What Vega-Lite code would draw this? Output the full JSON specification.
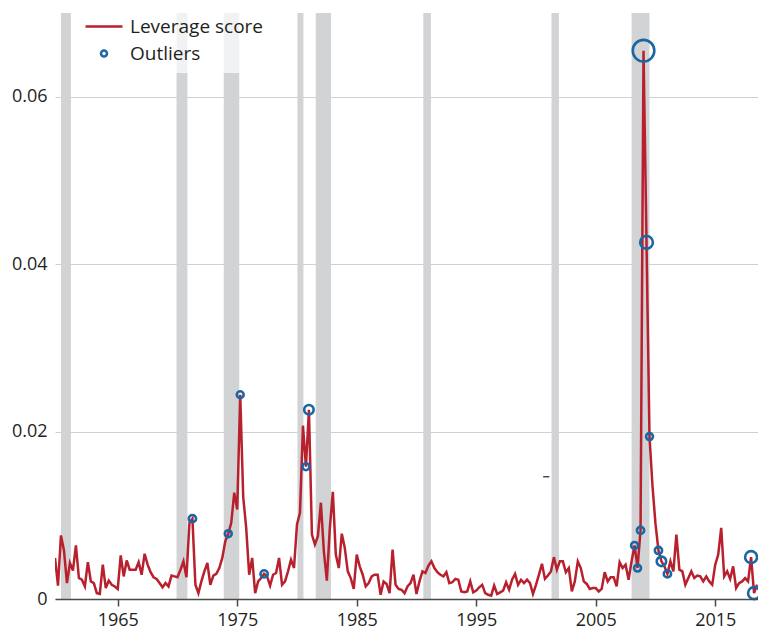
{
  "$schema": "https://vega.github.io/schema/vega-lite/v6.json",
  "width": 703,
  "height": 586,
  "autosize": {"type": "none"},
  "padding": {"left": 55, "top": 13, "right": 0, "bottom": 33},
  "background": "#ffffff",
  "datasets": {
    "recessions": [
      {"start": 1960.25, "end": 1961.08},
      {"start": 1969.92, "end": 1970.83},
      {"start": 1973.87, "end": 1975.17},
      {"start": 1980.04, "end": 1980.54},
      {"start": 1981.57, "end": 1982.85},
      {"start": 1990.57, "end": 1991.21},
      {"start": 2001.3, "end": 2001.92},
      {"start": 2008.0, "end": 2009.5}
    ],
    "leverage": [
      {"t": 1959.75, "v": 0.0049}, {"t": 1960.0, "v": 0.0016}, {"t": 1960.25, "v": 0.0076}, {"t": 1960.5, "v": 0.0058},
      {"t": 1960.75, "v": 0.0019}, {"t": 1961.0, "v": 0.0043}, {"t": 1961.25, "v": 0.0034}, {"t": 1961.5, "v": 0.0064},
      {"t": 1961.75, "v": 0.0025}, {"t": 1962.0, "v": 0.0023}, {"t": 1962.25, "v": 0.0015}, {"t": 1962.5, "v": 0.0044},
      {"t": 1962.75, "v": 0.0021}, {"t": 1963.0, "v": 0.0019}, {"t": 1963.25, "v": 0.0007}, {"t": 1963.5, "v": 0.0006},
      {"t": 1963.75, "v": 0.0041}, {"t": 1964.0, "v": 0.0013}, {"t": 1964.25, "v": 0.0022}, {"t": 1964.5, "v": 0.0017},
      {"t": 1964.75, "v": 0.0015}, {"t": 1965.0, "v": 0.0012}, {"t": 1965.25, "v": 0.0052}, {"t": 1965.5, "v": 0.0027},
      {"t": 1965.75, "v": 0.0046}, {"t": 1966.0, "v": 0.0035}, {"t": 1966.25, "v": 0.0035}, {"t": 1966.5, "v": 0.0035},
      {"t": 1966.75, "v": 0.0044}, {"t": 1967.0, "v": 0.0029}, {"t": 1967.25, "v": 0.0054}, {"t": 1967.5, "v": 0.0041},
      {"t": 1967.75, "v": 0.0032}, {"t": 1968.0, "v": 0.0026}, {"t": 1968.25, "v": 0.0024}, {"t": 1968.5, "v": 0.0019},
      {"t": 1968.75, "v": 0.0014}, {"t": 1969.0, "v": 0.0019}, {"t": 1969.25, "v": 0.0015}, {"t": 1969.5, "v": 0.0028},
      {"t": 1969.75, "v": 0.0027}, {"t": 1970.0, "v": 0.0026}, {"t": 1970.25, "v": 0.0035}, {"t": 1970.5, "v": 0.0045},
      {"t": 1970.75, "v": 0.0026}, {"t": 1971.0, "v": 0.0091}, {"t": 1971.25, "v": 0.0096}, {"t": 1971.5, "v": 0.0017},
      {"t": 1971.75, "v": 0.0007}, {"t": 1972.0, "v": 0.0021}, {"t": 1972.25, "v": 0.0033}, {"t": 1972.5, "v": 0.0043},
      {"t": 1972.75, "v": 0.0017}, {"t": 1973.0, "v": 0.0028}, {"t": 1973.25, "v": 0.003}, {"t": 1973.5, "v": 0.0037},
      {"t": 1973.75, "v": 0.0049}, {"t": 1974.0, "v": 0.0069}, {"t": 1974.25, "v": 0.0078}, {"t": 1974.5, "v": 0.0091},
      {"t": 1974.75, "v": 0.0127}, {"t": 1975.0, "v": 0.0107}, {"t": 1975.25, "v": 0.0244}, {"t": 1975.5, "v": 0.0122},
      {"t": 1975.75, "v": 0.0085}, {"t": 1976.0, "v": 0.0029}, {"t": 1976.25, "v": 0.0049}, {"t": 1976.5, "v": 0.0007},
      {"t": 1976.75, "v": 0.0021}, {"t": 1977.0, "v": 0.0025}, {"t": 1977.25, "v": 0.003}, {"t": 1977.5, "v": 0.0027},
      {"t": 1977.75, "v": 0.0016}, {"t": 1978.0, "v": 0.0029}, {"t": 1978.25, "v": 0.0031}, {"t": 1978.5, "v": 0.0049},
      {"t": 1978.75, "v": 0.0017}, {"t": 1979.0, "v": 0.0021}, {"t": 1979.25, "v": 0.0033}, {"t": 1979.5, "v": 0.0047},
      {"t": 1979.75, "v": 0.0037}, {"t": 1980.0, "v": 0.0089}, {"t": 1980.25, "v": 0.0103}, {"t": 1980.5, "v": 0.0207},
      {"t": 1980.75, "v": 0.0158}, {"t": 1981.0, "v": 0.0226}, {"t": 1981.25, "v": 0.0077}, {"t": 1981.5, "v": 0.0065},
      {"t": 1981.75, "v": 0.0075}, {"t": 1982.0, "v": 0.0115}, {"t": 1982.25, "v": 0.0057}, {"t": 1982.5, "v": 0.0022},
      {"t": 1982.75, "v": 0.0085}, {"t": 1983.0, "v": 0.0128}, {"t": 1983.25, "v": 0.0053}, {"t": 1983.5, "v": 0.0037},
      {"t": 1983.75, "v": 0.0078}, {"t": 1984.0, "v": 0.0061}, {"t": 1984.25, "v": 0.0033}, {"t": 1984.5, "v": 0.0025},
      {"t": 1984.75, "v": 0.0012}, {"t": 1985.0, "v": 0.0053}, {"t": 1985.25, "v": 0.0039}, {"t": 1985.5, "v": 0.0029},
      {"t": 1985.75, "v": 0.0015}, {"t": 1986.0, "v": 0.0019}, {"t": 1986.25, "v": 0.0027}, {"t": 1986.5, "v": 0.0029},
      {"t": 1986.75, "v": 0.0029}, {"t": 1987.0, "v": 0.0005}, {"t": 1987.25, "v": 0.0021}, {"t": 1987.5, "v": 0.0018},
      {"t": 1987.75, "v": 0.0007}, {"t": 1988.0, "v": 0.0059}, {"t": 1988.25, "v": 0.0017}, {"t": 1988.5, "v": 0.0012},
      {"t": 1988.75, "v": 0.0011}, {"t": 1989.0, "v": 0.0007}, {"t": 1989.25, "v": 0.0015}, {"t": 1989.5, "v": 0.0019},
      {"t": 1989.75, "v": 0.0029}, {"t": 1990.0, "v": 0.0006}, {"t": 1990.25, "v": 0.0021}, {"t": 1990.5, "v": 0.0033},
      {"t": 1990.75, "v": 0.0031}, {"t": 1991.0, "v": 0.004}, {"t": 1991.25, "v": 0.0045}, {"t": 1991.5, "v": 0.0037},
      {"t": 1991.75, "v": 0.0032}, {"t": 1992.0, "v": 0.0029}, {"t": 1992.25, "v": 0.0027}, {"t": 1992.5, "v": 0.0032},
      {"t": 1992.75, "v": 0.0019}, {"t": 1993.0, "v": 0.002}, {"t": 1993.25, "v": 0.0024}, {"t": 1993.5, "v": 0.0023},
      {"t": 1993.75, "v": 0.0009}, {"t": 1994.0, "v": 0.0008}, {"t": 1994.25, "v": 0.0009}, {"t": 1994.5, "v": 0.0021},
      {"t": 1994.75, "v": 0.0008}, {"t": 1995.0, "v": 0.001}, {"t": 1995.25, "v": 0.0014}, {"t": 1995.5, "v": 0.0017},
      {"t": 1995.75, "v": 0.0007}, {"t": 1996.0, "v": 0.0005}, {"t": 1996.25, "v": 0.0004}, {"t": 1996.5, "v": 0.0016},
      {"t": 1996.75, "v": 0.0006}, {"t": 1997.0, "v": 0.0008}, {"t": 1997.25, "v": 0.001}, {"t": 1997.5, "v": 0.002},
      {"t": 1997.75, "v": 0.0011}, {"t": 1998.0, "v": 0.0023}, {"t": 1998.25, "v": 0.003}, {"t": 1998.5, "v": 0.0017},
      {"t": 1998.75, "v": 0.0023}, {"t": 1999.0, "v": 0.0019}, {"t": 1999.25, "v": 0.0023}, {"t": 1999.5, "v": 0.0019},
      {"t": 1999.75, "v": 0.0006}, {"t": 2000.0, "v": 0.0017}, {"t": 2000.25, "v": 0.0029}, {"t": 2000.5, "v": 0.0042},
      {"t": 2000.75, "v": 0.0024}, {"t": 2001.0, "v": 0.0028}, {"t": 2001.25, "v": 0.0033}, {"t": 2001.5, "v": 0.005},
      {"t": 2001.75, "v": 0.0035}, {"t": 2002.0, "v": 0.0045}, {"t": 2002.25, "v": 0.0045}, {"t": 2002.5, "v": 0.0032},
      {"t": 2002.75, "v": 0.0037}, {"t": 2003.0, "v": 0.0009}, {"t": 2003.25, "v": 0.0021}, {"t": 2003.5, "v": 0.0045},
      {"t": 2003.75, "v": 0.0037}, {"t": 2004.0, "v": 0.0021}, {"t": 2004.25, "v": 0.0018}, {"t": 2004.5, "v": 0.0012},
      {"t": 2004.75, "v": 0.0013}, {"t": 2005.0, "v": 0.0013}, {"t": 2005.25, "v": 0.0009}, {"t": 2005.5, "v": 0.0012},
      {"t": 2005.75, "v": 0.0032}, {"t": 2006.0, "v": 0.0021}, {"t": 2006.25, "v": 0.0026}, {"t": 2006.5, "v": 0.0026},
      {"t": 2006.75, "v": 0.0015}, {"t": 2007.0, "v": 0.0044}, {"t": 2007.25, "v": 0.0037}, {"t": 2007.5, "v": 0.0041},
      {"t": 2007.75, "v": 0.0023}, {"t": 2008.0, "v": 0.0045}, {"t": 2008.25, "v": 0.0064}, {"t": 2008.5, "v": 0.0037},
      {"t": 2008.75, "v": 0.0082}, {"t": 2009.0, "v": 0.0655}, {"t": 2009.25, "v": 0.0426}, {"t": 2009.5, "v": 0.0194},
      {"t": 2009.75, "v": 0.0135}, {"t": 2010.0, "v": 0.009}, {"t": 2010.25, "v": 0.0058}, {"t": 2010.5, "v": 0.0045},
      {"t": 2010.75, "v": 0.0039}, {"t": 2011.0, "v": 0.003}, {"t": 2011.25, "v": 0.0045}, {"t": 2011.5, "v": 0.0033},
      {"t": 2011.75, "v": 0.0077}, {"t": 2012.0, "v": 0.0035}, {"t": 2012.25, "v": 0.0033}, {"t": 2012.5, "v": 0.0017},
      {"t": 2012.75, "v": 0.0025}, {"t": 2013.0, "v": 0.0033}, {"t": 2013.25, "v": 0.0025}, {"t": 2013.5, "v": 0.0028},
      {"t": 2013.75, "v": 0.0027}, {"t": 2014.0, "v": 0.0021}, {"t": 2014.25, "v": 0.0027}, {"t": 2014.5, "v": 0.0021},
      {"t": 2014.75, "v": 0.0017}, {"t": 2015.0, "v": 0.0041}, {"t": 2015.25, "v": 0.0053}, {"t": 2015.5, "v": 0.0085},
      {"t": 2015.75, "v": 0.0027}, {"t": 2016.0, "v": 0.0033}, {"t": 2016.25, "v": 0.0024}, {"t": 2016.5, "v": 0.0039},
      {"t": 2016.75, "v": 0.0013}, {"t": 2017.0, "v": 0.0019}, {"t": 2017.25, "v": 0.0021}, {"t": 2017.5, "v": 0.0025},
      {"t": 2017.75, "v": 0.0021}, {"t": 2018.0, "v": 0.005}, {"t": 2018.25, "v": 0.0007}, {"t": 2018.5, "v": 0.0017}
    ],
    "outliers": [
      {"t": 1971.25, "v": 0.0096, "influence": 0.11},
      {"t": 1974.25, "v": 0.0078, "influence": 0.1},
      {"t": 1975.25, "v": 0.0244, "influence": 0.1},
      {"t": 1977.25, "v": 0.003, "influence": 0.11},
      {"t": 1980.75, "v": 0.0158, "influence": 0.1},
      {"t": 1981.0, "v": 0.0226, "influence": 0.19},
      {"t": 2008.25, "v": 0.0064, "influence": 0.1},
      {"t": 2008.5, "v": 0.0037, "influence": 0.1},
      {"t": 2008.75, "v": 0.0082, "influence": 0.11},
      {"t": 2009.0, "v": 0.0655, "influence": 0.98},
      {"t": 2009.25, "v": 0.0426, "influence": 0.34},
      {"t": 2009.5, "v": 0.0194, "influence": 0.1},
      {"t": 2010.25, "v": 0.0058, "influence": 0.11},
      {"t": 2010.5, "v": 0.0045, "influence": 0.19},
      {"t": 2011.0, "v": 0.003, "influence": 0.11},
      {"t": 2018.0, "v": 0.005, "influence": 0.3},
      {"t": 2018.25, "v": 0.0007, "influence": 0.3}
    ],
    "marker": [
      {"t0": 2000.6, "t1": 2001.12, "v": 0.0146}
    ]
  },
  "encoding": {
    "x": {
      "field": "t",
      "type": "quantitative",
      "scale": {"domain": [1959.75, 2018.58], "nice": false, "zero": false},
      "axis": {
        "title": null,
        "values": [1965, 1975, 1985, 1995, 2005, 2015],
        "format": "d",
        "grid": false,
        "zindex": 1,
        "domainColor": "#4a4a4a",
        "domainWidth": 1.5,
        "tickColor": "#4a4a4a",
        "tickWidth": 1.5,
        "tickSize": 7,
        "labelPadding": 5
      }
    },
    "y": {
      "field": "v",
      "type": "quantitative",
      "scale": {"domain": [0, 0.07], "nice": false},
      "axis": {
        "title": null,
        "values": [0, 0.02, 0.04, 0.06],
        "format": "~g",
        "domain": false,
        "ticks": false,
        "grid": true,
        "gridColor": "#cfd0d2",
        "gridWidth": 1,
        "labelPadding": 8
      }
    }
  },
  "layer": [
    {
      "data": {"name": "recessions"},
      "mark": {"type": "rect", "color": "#d1d3d5"},
      "encoding": {
        "x": {"field": "start", "type": "quantitative"},
        "x2": {"field": "end"},
        "y": null
      }
    },
    {
      "data": {"name": "marker"},
      "mark": {"type": "rule", "color": "#231f20", "strokeWidth": 1.2},
      "encoding": {
        "x": {"field": "t0", "type": "quantitative"},
        "x2": {"field": "t1"}
      }
    },
    {
      "data": {"name": "leverage"},
      "mark": {"type": "line", "strokeWidth": 2.5, "clip": true},
      "encoding": {
        "color": {
          "datum": "Leverage score",
          "type": "nominal",
          "scale": {"domain": ["Leverage score", "Outliers"], "range": ["#b8202e", "#1b66a4"]},
          "legend": {
            "orient": "none",
            "legendX": 20,
            "legendY": -5,
            "title": null,
            "padding": 9,
            "fillColor": "rgba(255,255,255,0.7)",
            "symbolType": "stroke",
            "symbolSize": 1369,
            "symbolStrokeWidth": 2.5,
            "clipHeight": 19,
            "labelFont": "Open Sans",
            "labelFontSize": 19,
            "labelColor": "#231f20",
            "labelOffset": 6,
            "rowPadding": 7,
            "encode": {
              "symbols": {
                "update": {
                  "shape": {"signal": "datum.value === 'Outliers' ? 'circle' : 'stroke'"},
                  "size": {"signal": "datum.value === 'Outliers' ? 36 : 1369"},
                  "fill": {"value": "transparent"},
                  "stroke": {"scale": "color", "field": "value"},
                  "strokeWidth": {"value": 2.5}
                }
              }
            }
          }
        }
      }
    },
    {
      "data": {"name": "outliers"},
      "mark": {"type": "point", "filled": false, "strokeWidth": 2.6, "opacity": 1},
      "encoding": {
        "color": {"datum": "Outliers", "type": "nominal"},
        "size": {
          "field": "influence",
          "type": "quantitative",
          "scale": {"domain": [0, 1], "range": [0, 475]},
          "legend": null
        }
      }
    }
  ],
  "config": {
    "view": {"stroke": null},
    "font": "Open Sans",
    "axis": {
      "labelFont": "Open Sans",
      "labelFontSize": 18,
      "labelColor": "#231f20"
    }
  }
}
